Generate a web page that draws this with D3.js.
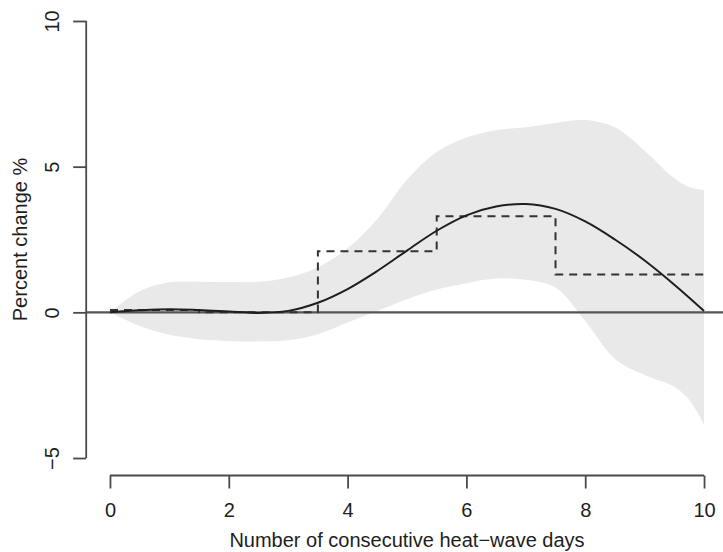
<!DOCTYPE html>
<html>
<head>
<meta charset="utf-8">
<script src="https://cdn.jsdelivr.net/npm/d3@7"></script>
<style>
  body { margin: 0; background: #fff; }
  text { font-family: "Liberation Sans", Arial, sans-serif; fill: #1e1e1e; }
</style>
</head>
<body>
<svg id="chart"></svg>
<script>
const width = 723;
const height = 552;

// x ticks and y ticks
const xTicks = [0, 2, 4, 6, 8, 10];
const yTicks = [-5, 0, 5, 10];

// confidence band
const bandDays  = [0, 0.5, 1, 1.5, 2, 2.5, 3, 3.5, 4, 4.5, 5, 5.5, 6, 6.5, 7, 7.5, 8, 8.5, 9, 9.5, 9.75, 10];
const bandUpper = [0, 0.72, 1.03, 1.05, 1.04, 1.05, 1.2, 1.55, 2.2, 3.2, 4.55, 5.5, 6.0, 6.25, 6.35, 6.5, 6.6, 6.35, 5.55, 4.6, 4.3, 4.2];
const bandLower = [0, -0.47, -0.77, -0.92, -0.98, -1.0, -0.96, -0.75, -0.35, 0.05, 0.45, 0.78, 1.0, 1.16, 1.12, 0.85, -0.3, -1.6, -2.15, -2.55, -3.0, -3.85];

// smooth estimate
const curveDays = [0, 0.5, 1, 1.5, 2, 2.5, 3, 3.5, 4, 4.5, 5, 5.5, 6, 6.5, 7, 7.5, 8, 8.5, 9, 9.5, 10];
const curveVals = [0, 0.07, 0.11, 0.08, 0.03, -0.02, 0.05, 0.33, 0.8, 1.42, 2.12, 2.8, 3.33, 3.63, 3.72, 3.55, 3.12, 2.5, 1.78, 0.95, 0.05];

// categorical (step) estimate
const stepDays = [0, 1.5, 3.5, 5.5, 7.5, 10];
const stepVals = [0.08, 0, 2.1, 3.3, 1.3, 1.3];

const svg = d3.select('#chart')
  .attr('width', width)
  .attr('height', height);

// plot region like R's usr (4% padding)
const x = d3.scaleLinear().domain([-0.4, 10.4]).range([86.2, 727.8]);
const y = d3.scaleLinear().domain([-5.6, 10.6]).range([475.5, 3.5]);

const band = bandDays.map((d, i) => ({d: d, lo: bandLower[i], hi: bandUpper[i]}));
svg.append('path')
  .datum(band)
  .attr('fill', '#e9e9e9')
  .attr('d', d3.area()
    .curve(d3.curveCatmullRom.alpha(0.5))
    .x(p => x(p.d))
    .y0(p => y(p.lo))
    .y1(p => y(p.hi)));

// zero reference line
svg.append('line')
  .attr('x1', x.range()[0]).attr('x2', x.range()[1])
  .attr('y1', y(0)).attr('y2', y(0))
  .attr('stroke', '#555')
  .attr('stroke-width', 2.2);

// step line
const steps = stepDays.map((d, i) => ({d: d, v: stepVals[i]}));
svg.append('path')
  .datum(steps)
  .attr('fill', 'none')
  .attr('stroke', '#333')
  .attr('stroke-width', 2)
  .attr('stroke-dasharray', '8,6')
  .attr('d', d3.line().curve(d3.curveStepAfter).x(p => x(p.d)).y(p => y(p.v)));

// smooth line
const curve = curveDays.map((d, i) => ({d: d, v: curveVals[i]}));
svg.append('path')
  .datum(curve)
  .attr('fill', 'none')
  .attr('stroke', '#1e1e1e')
  .attr('stroke-width', 2)
  .attr('d', d3.line().curve(d3.curveCatmullRom.alpha(0.5)).x(p => x(p.d)).y(p => y(p.v)));

// x axis
const xAxis = d3.axisBottom(x).tickValues(xTicks).tickSize(13).tickSizeOuter(0).tickPadding(14);
const gx = svg.append('g')
  .attr('transform', `translate(0, ${y.range()[0]})`)
  .call(xAxis);
gx.select('.domain').attr('d', `M${x(0)},0H${x(10)}`);

// y axis
const yAxis = d3.axisLeft(y).tickValues(yTicks).tickSize(13).tickSizeOuter(0);
const gy = svg.append('g')
  .attr('transform', `translate(${x.range()[0]}, 0)`)
  .call(yAxis);
gy.select('.domain').attr('d', `M0,${y(-5)}V${y(10)}`);
gy.selectAll('.tick text')
  .attr('x', 0)
  .attr('y', -27)
  .attr('dy', 0)
  .attr('text-anchor', 'middle')
  .attr('transform', 'rotate(-90)')
  .text(d => d < 0 ? '\u2212' + Math.abs(d) : d);

[gx, gy].forEach(g => {
  g.attr('font-family', null).attr('font-size', null);
  g.selectAll('.domain, .tick line').attr('stroke', '#4a4a4a').attr('stroke-width', 1.8);
  g.selectAll('.tick text').style('font-size', '20px').attr('fill', '#1e1e1e');
});

// axis titles
svg.append('text')
  .text('Number of consecutive heat\u2212wave days')
  .attr('x', x(5))
  .attr('y', 547)
  .attr('text-anchor', 'middle')
  .style('font-size', '20px');

svg.append('text')
  .text('Percent change %')
  .attr('text-anchor', 'middle')
  .attr('transform', `translate(27, ${y(2.5)}) rotate(-90)`)
  .style('font-size', '20px');
</script>
</body>
</html>
